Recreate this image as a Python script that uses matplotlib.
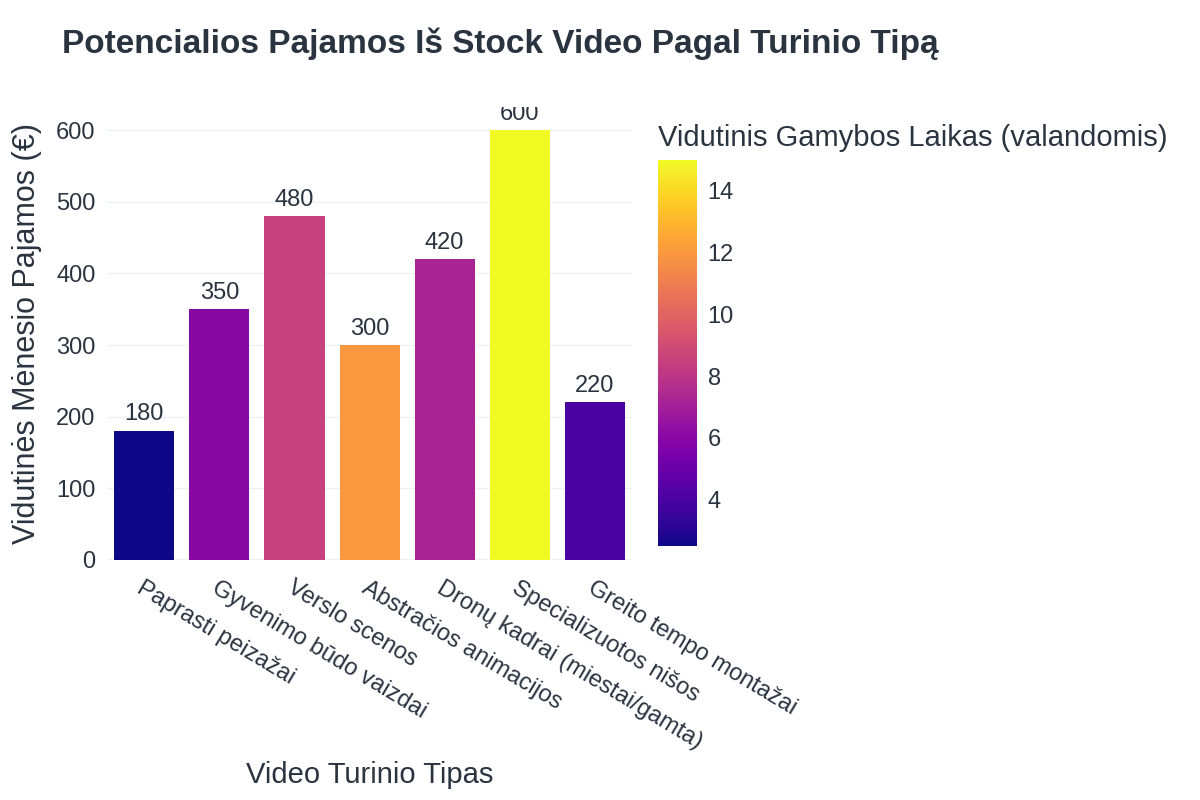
import numpy as np
import matplotlib
matplotlib.use("Agg")
import matplotlib.pyplot as plt
from matplotlib import cm, colors

plt.rcParams['font.family'] = ['Liberation Sans', 'DejaVu Sans']

categories = ["Paprasti peizažai", "Gyvenimo būdo vaizdai", "Verslo scenos",
              "Abstračios animacijos", "Dronų kadrai (miestai/gamta)",
              "Specializuotos nišos", "Greito tempo montažai"]
income = [180, 350, 480, 300, 420, 600, 220]
hours = [2.5, 6, 8.5, 12, 7.2, 15, 4]
cbar_ticks = [4, 6, 8, 10, 12, 14]

TEXT = '#2a3441'
GRID = '#ebf0f8'

fig = plt.figure(figsize=(12, 8), dpi=100)
ax = fig.add_axes([0.089, 0.30, 0.438, 0.566])

norm = colors.Normalize(vmin=min(hours), vmax=max(hours))
cmap = plt.get_cmap('plasma')
x = np.arange(len(categories))
bars = ax.bar(x, income, width=0.8, color=cmap(norm(hours)), zorder=3)

# value labels above bars, clipped by the plot area like the original
for xi, v in zip(x, income):
    ax.annotate(str(v), (xi, v), xytext=(0, 4), textcoords='offset points',
                ha='center', va='bottom', fontsize=17, color=TEXT,
                annotation_clip=False, clip_on=True, zorder=4)

ax.set_xlim(-0.5, len(categories) - 0.5)
ax.set_ylim(0, 632)
ax.set_yticks([0, 100, 200, 300, 400, 500, 600])
ax.grid(axis='y', color=GRID, linewidth=1, zorder=0)
ax.axhline(0, color=GRID, linewidth=2, zorder=2)
for s in ax.spines.values():
    s.set_visible(False)
ax.tick_params(axis='both', length=0, labelsize=17, labelcolor=TEXT)
ax.tick_params(axis='y', pad=8)
ax.set_xticks(x)
ax.set_xticklabels(categories, rotation=-31, ha='left', va='top',
                   rotation_mode='anchor')
ax.tick_params(axis='x', pad=12)

ax.set_ylabel("Vidutinės Mėnesio Pajamos (€)", fontsize=22, color=TEXT, labelpad=10)
ax.set_xlabel("Video Turinio Tipas", fontsize=21, color=TEXT)
ax.xaxis.set_label_coords(0.5, -0.445)

fig.text(0.052, 0.945, "Potencialios Pajamos Iš Stock Video Pagal Turinio Tipą",
         fontsize=24, fontweight='bold', color=TEXT, va='center', ha='left')

cax = fig.add_axes([0.548, 0.3175, 0.0325, 0.4825])
sm = cm.ScalarMappable(norm=norm, cmap=cmap)
cb = fig.colorbar(sm, cax=cax, ticks=cbar_ticks)
cb.outline.set_visible(False)
cax.tick_params(length=0, labelsize=17, labelcolor=TEXT, pad=8)
fig.text(0.548, 0.828, "Vidutinis Gamybos Laikas (valandomis)", fontsize=21,
         color=TEXT, ha='left', va='center')

fig.savefig('out.png', dpi=100, facecolor='white')
